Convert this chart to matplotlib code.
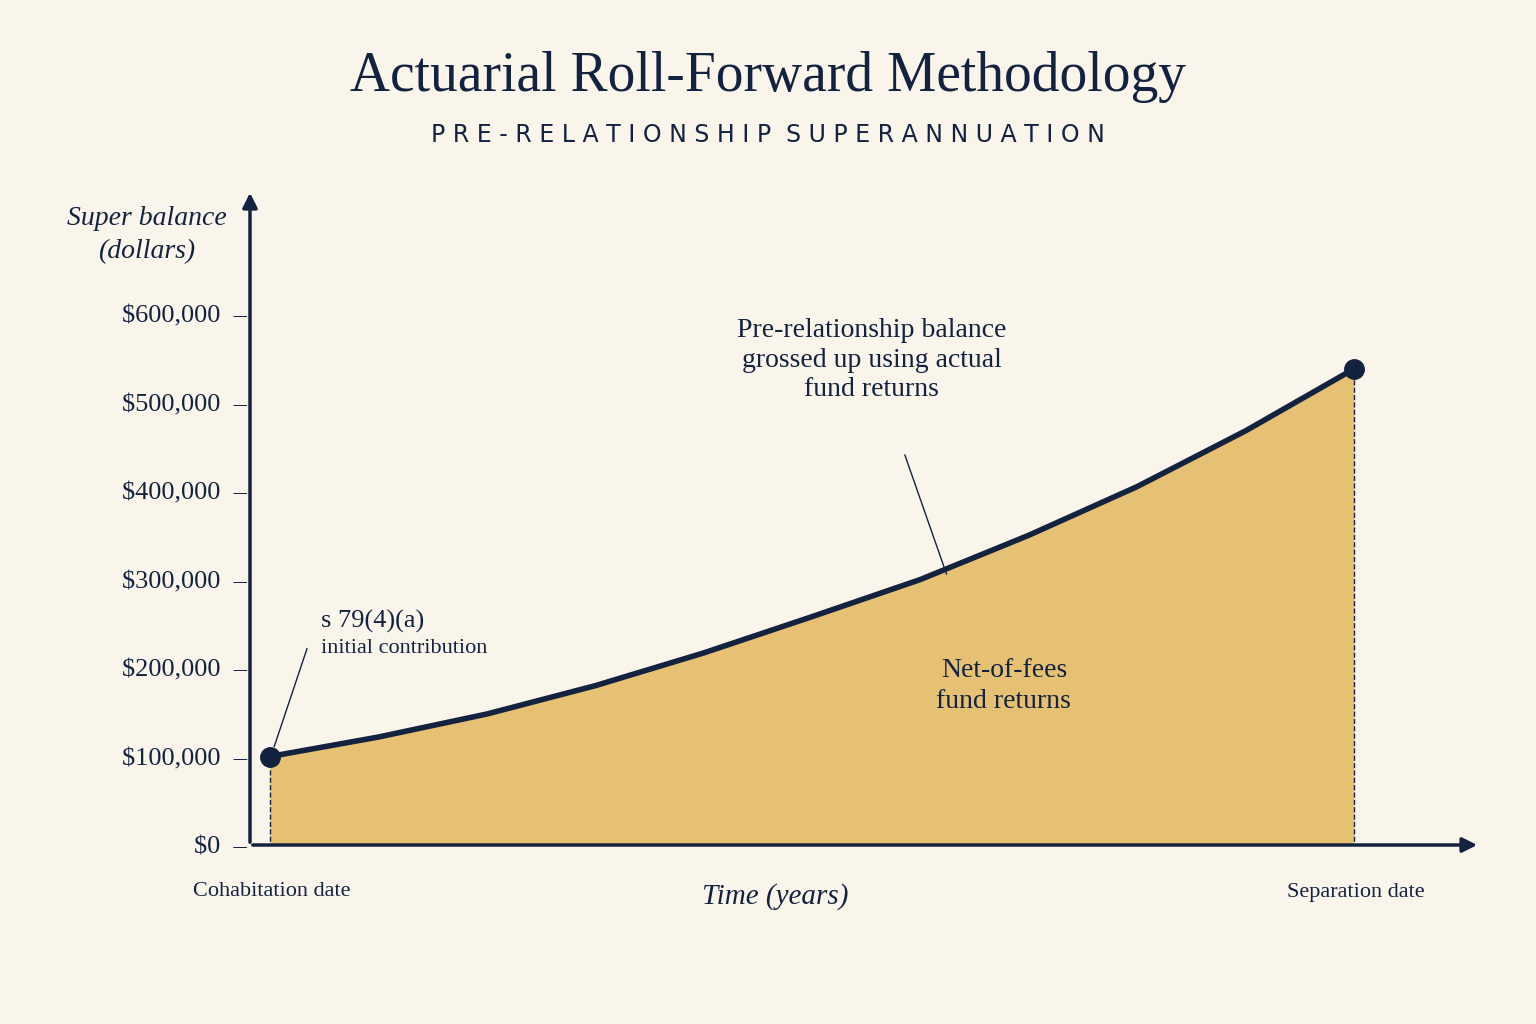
import matplotlib
matplotlib.use("Agg")
import matplotlib.pyplot as plt

years = [0, 1, 2, 3, 4, 5, 6, 7, 8, 9, 10]
balance = [100000, 122000, 148000, 180000, 217000, 258000, 300000, 350000, 405000, 468000, 538000]
yticks = [0, 100000, 200000, 300000, 400000, 500000, 600000]
ytick_labels = ["$0", "$100,000", "$200,000", "$300,000", "$400,000", "$500,000", "$600,000"]

NAVY = "#13223f"
GOLD = "#e6c173"
BG = "#faf5eb"
SERIF = ["Liberation Serif", "DejaVu Serif"]

fig = plt.figure(figsize=(15.36, 10.24), dpi=100, facecolor=BG)
ax = fig.add_axes([250/1536, 1-845/1024, (1480-250)/1536, (845-190)/1024])
ax.set_facecolor(BG)
ax.set_xlim(-20/108.4, 1210/108.4)
ax.set_ylim(0, 655/88.5*100000)
for s in ax.spines.values():
    s.set_visible(False)

ax.fill_between(years, balance, 0, color=GOLD, lw=0)
ax.plot(years, balance, color=NAVY, lw=4, solid_capstyle="round")
ax.plot([years[0], years[-1]], [balance[0], balance[-1]], "o", color=NAVY, ms=14)
for x, y in [(years[0], balance[0]), (years[-1], balance[-1])]:
    ax.plot([x, x], [-12000, y], ls="--", color=NAVY, lw=1)

# axes arrows
ax.annotate("", xy=(0, 1), xytext=(0, 0), xycoords="axes fraction",
            arrowprops=dict(arrowstyle="-|>", color=NAVY, lw=2.5, mutation_scale=22))
ax.annotate("", xy=(1, 0), xytext=(0, 0), xycoords="axes fraction",
            arrowprops=dict(arrowstyle="-|>", color=NAVY, lw=2.5, mutation_scale=22))

ax.set_yticks(yticks)
ax.set_yticklabels([l + "  –" for l in ytick_labels], fontsize=19, family=SERIF, color=NAVY)
ax.tick_params(axis="y", length=0, pad=2)
ax.set_xticks([])

fig.text(0.5, 0.925, "Actuarial Roll-Forward Methodology", ha="center", va="center",
         fontsize=40, family=SERIF, color=NAVY)
fig.text(0.5, 0.868, "  ".join(" ".join(w) for w in "PRE-RELATIONSHIP SUPERANNUATION".split()),
         ha="center", va="center", fontsize=17, family="DejaVu Sans", color=NAVY)
fig.text(147/1536, 1-235/1024, "Super balance\n(dollars)", ha="center", va="center",
         fontsize=20, family=SERIF, style="italic", color=NAVY, linespacing=1.4)
fig.text(775/1536, 1-897/1024, "Time (years)", ha="center", va="center",
         fontsize=21, family=SERIF, style="italic", color=NAVY)
fig.text(272/1536, 1-892/1024, "Cohabitation date", ha="center", va="center",
         fontsize=16, family=SERIF, color=NAVY)
fig.text(1356/1536, 1-892/1024, "Separation date", ha="center", va="center",
         fontsize=16, family=SERIF, color=NAVY)

ax.annotate("Pre-relationship balance\ngrossed up using actual\nfund returns",
            xy=(6.25, 303000), xytext=(5.55, 548000), ha="center", va="center",
            fontsize=20, family=SERIF, color=NAVY, linespacing=1.25,
            arrowprops=dict(arrowstyle="-", color=NAVY, lw=1, shrinkA=38, shrinkB=2))
ax.text(6.77, 180000, "Net-of-fees\nfund returns", ha="center", va="center",
        fontsize=20, family=SERIF, color=NAVY, linespacing=1.3)
ax.annotate("", xy=(0.03, 108000), xytext=(0.35, 225000),
            arrowprops=dict(arrowstyle="-", color=NAVY, lw=1))
ax.text(0.47, 253000, "s 79(4)(a)", fontsize=19, family=SERIF, color=NAVY, va="center")
ax.text(0.47, 222000, "initial contribution", fontsize=16, family=SERIF, color=NAVY, va="center")

fig.savefig("out.png", dpi=100, facecolor=BG)
